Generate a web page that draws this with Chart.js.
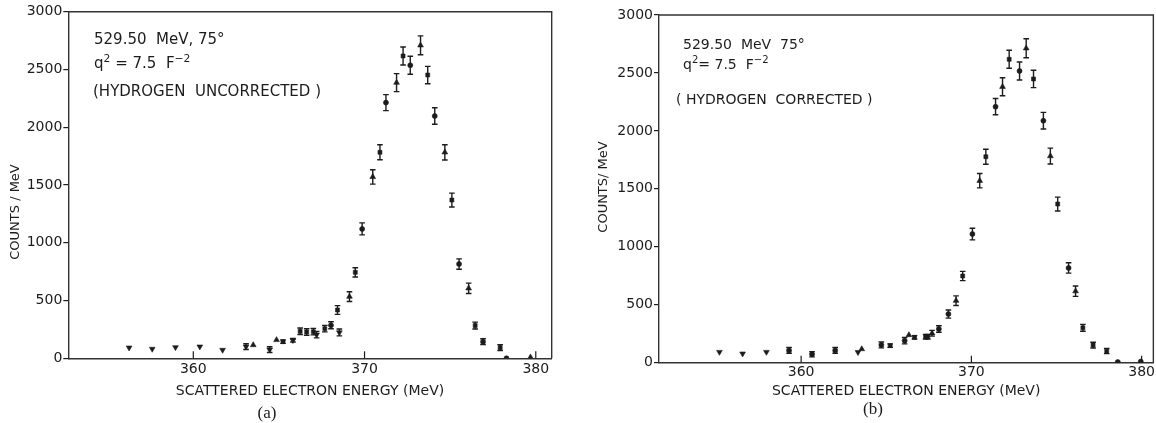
<!DOCTYPE html>
<html><head><meta charset="utf-8">
<script src="https://cdn.jsdelivr.net/npm/chart.js@4.4.1/dist/chart.umd.min.js"></script>
<style>
html,body{margin:0;padding:0;background:#fff;width:1156px;height:423px;overflow:hidden;position:relative;}
canvas{position:absolute;top:0;}
#cA{left:0;} #cB{left:580px;}
.cap{position:absolute;font-family:"Liberation Serif","DejaVu Serif",serif;font-size:17px;color:#1c1c1c;transform:translate(-50%,-50%);white-space:nowrap;}
</style></head><body>
<canvas id="cA" width="575" height="423"></canvas>
<canvas id="cB" width="576" height="423"></canvas>
<div class="cap" style="left:267px;top:413px">(a)</div>
<div class="cap" style="left:873px;top:409px">(b)</div>
<script>
// ---------- data ----------
const xTickValues = [360, 370, 380];
const yTickValues = [0, 500, 1000, 1500, 2000, 2500, 3000];

// (a) hydrogen uncorrected
const energyA = [356.25,357.6,358.96,360.38,361.71,363.08,363.5,364.46,364.86,365.24,365.82,366.24,366.62,367.01,367.2,367.68,368.04,368.53,368.42,369.12,369.46,369.86,370.48,370.9,371.25,371.87,372.25,372.67,373.27,373.69,374.1,374.69,375.1,375.52,376.08,376.46,376.92,377.92,378.29,379.69];
const countsA = [92,81,95,101,72,101,115,75,159,144,156,234,228,231,205,257,286,224,418,534,744,1120,1570,1783,2213,2386,2617,2536,2709,2452,2097,1783,1370,816,606,283,144,92,0,9];
const errorA  = [0,0,0,0,0,25,0,25,0,15,15,28,28,28,28,28,30,30,38,42,40,52,62,65,69,78,78,78,82,75,71,66,60,45,45,30,25,25,0,0];
const markerA = ['v','v','v','v','v','v','^','v','^','s','v','s','s','s','v','s','o','v','s','^','s','o','^','s','o','^','s','o','^','s','o','^','s','o','^','s','o','s','o','^'];

// (b) hydrogen corrected
const energyB = [355.2,356.56,357.96,359.29,360.64,362.0,363.34,363.56,364.71,365.23,366.08,366.33,366.66,367.31,367.44,367.69,368.09,368.65,369.1,369.49,370.06,370.49,370.85,371.42,371.83,372.22,372.83,373.22,373.65,374.23,374.64,375.07,375.71,376.12,376.55,377.15,377.95,378.6,379.95];
const countsB = [92,78,92,106,72,106,90,118,153,147,190,239,219,224,224,254,291,420,535,748,1110,1570,1777,2209,2381,2618,2517,2713,2448,2088,1783,1369,818,617,301,152,100,6,10];
const errorB  = [0,0,0,25,22,25,0,0,25,15,28,0,15,20,20,25,28,35,42,40,50,62,65,70,78,78,78,82,75,72,68,60,45,45,30,25,22,0,0];
const markerB = ['v','v','v','o','o','o','v','^','o','s','o','^','s','s','s','^','o','o','^','s','o','^','s','o','^','s','o','^','s','o','^','s','o','^','s','s','s','o','o'];

// ---------- rendering ----------
const ink = '#1c1c1c';
const FONT = '"DejaVu Sans", "Liberation Sans", sans-serif';

function markerStyle(m) {
  if (m === 'v') return {style: 'triangle', rot: 180, r: 3.3};
  if (m === '^') return {style: 'triangle', rot: 0, r: 3.3};
  if (m === 's') return {style: 'rect', rot: 0, r: 2.8};
  return {style: 'circle', rot: 0, r: 2.5};
}

const errorBarPlugin = {
  id: 'errorBars',
  afterDatasetsDraw(chart) {
    const {ctx, scales: {x, y}} = chart;
    const ds = chart.data.datasets[0];
    ctx.save();
    ctx.strokeStyle = ink; ctx.lineWidth = 1.4;
    ds.data.forEach(p => {
      if (!p.err) return;
      const px = x.getPixelForValue(p.x);
      const yt = y.getPixelForValue(p.y + p.err);
      const yb = y.getPixelForValue(Math.max(0, p.y - p.err));
      ctx.beginPath();
      ctx.moveTo(px, yt); ctx.lineTo(px, yb);
      ctx.moveTo(px - 2.8, yt); ctx.lineTo(px + 2.8, yt);
      ctx.moveTo(px - 2.8, yb); ctx.lineTo(px + 2.8, yb);
      ctx.stroke();
    });
    ctx.restore();
  }
};

const framePlugin = {
  id: 'frame',
  afterDraw(chart) {
    const {ctx, chartArea: a, scales: {x}} = chart;
    ctx.save();
    ctx.strokeStyle = '#333'; ctx.lineWidth = 1.4;
    ctx.beginPath();
    ctx.moveTo(a.left, a.top); ctx.lineTo(a.right, a.top); ctx.lineTo(a.right, a.bottom);
    ctx.stroke();
    ctx.lineWidth = 1.2; ctx.strokeStyle = ink;
    xTickValues.forEach(v => {
      const px = x.getPixelForValue(v);
      ctx.beginPath(); ctx.moveTo(px, a.bottom); ctx.lineTo(px, a.bottom - 7); ctx.stroke();
    });
    ctx.restore();
  }
};

// each line is a list of runs; a run with sup:true is drawn smaller and raised
const textPlugin = {
  id: 'panelText',
  afterDraw(chart, args, opts) {
    const ctx = chart.ctx;
    ctx.save();
    ctx.fillStyle = ink;
    ctx.textBaseline = 'alphabetic';
    ctx.textAlign = 'left';
    (opts.lines || []).forEach(l => {
      let cx = l.x;
      l.runs.forEach(r => {
        const sz = r.sup ? l.size * 0.72 : l.size;
        ctx.font = sz + 'px ' + FONT;
        const dy = r.sup ? -l.size * 0.45 : 0;
        ctx.fillText(r.t, cx, l.y + l.size * 0.36 + dy);
        cx += ctx.measureText(r.t).width;
      });
    });
    if (opts.yTitle) {
      const t = opts.yTitle;
      ctx.translate(t.x, t.y);
      ctx.rotate(-Math.PI / 2);
      ctx.font = t.size + 'px ' + FONT;
      ctx.textAlign = 'center';
      ctx.textBaseline = 'middle';
      ctx.fillText(t.text, 0, 0);
    }
    ctx.restore();
  }
};

function makeChart(id, energy, counts, errs, markers, cfg) {
  const pts = energy.map((e, i) => ({x: e, y: counts[i], err: errs[i]}));
  const ms = markers.map(markerStyle);
  return new Chart(document.getElementById(id), {
    type: 'scatter',
    data: {datasets: [{
      data: pts,
      pointStyle: ms.map(m => m.style),
      rotation: ms.map(m => m.rot),
      pointRadius: ms.map(m => m.r),
      backgroundColor: ink,
      borderColor: ink,
      borderWidth: 0.6,
      showLine: false
    }]},
    options: {
      responsive: false,
      animation: false,
      devicePixelRatio: 1,
      layout: {autoPadding: false, padding: {top: cfg.top, right: cfg.right, left: 0, bottom: 0}},
      plugins: {
        legend: {display: false},
        tooltip: {enabled: false},
        panelText: {lines: cfg.lines, yTitle: cfg.yTitle}
      },
      scales: {
        x: {
          type: 'linear',
          min: cfg.xmin, max: cfg.xmax,
          afterBuildTicks: s => { s.ticks = xTickValues.map(v => ({value: v})); },
          afterFit: s => { s.height = cfg.xHeight; },
          grid: {display: true, drawOnChartArea: false, drawTicks: false},
          border: {display: true, color: '#333', width: 1.4},
          ticks: {color: ink, font: {family: FONT, size: 14}, padding: cfg.xPad, maxRotation: 0, callback: v => String(v)},
          title: {display: true, text: 'SCATTERED ELECTRON ENERGY (MeV)', color: ink,
                  font: {family: FONT, size: 14}, padding: {top: 0, bottom: cfg.titlePad}}
        },
        y: {
          type: 'linear',
          min: 0, max: 3000,
          afterBuildTicks: s => { s.ticks = yTickValues.map(v => ({value: v})); },
          afterFit: s => { s.width = cfg.yWidth; },
          grid: {display: true, drawOnChartArea: false, drawTicks: true, tickLength: 5, color: ink, lineWidth: 1.2},
          border: {display: true, color: '#333', width: 1.4},
          ticks: {color: ink, font: {family: FONT, size: 14}, padding: 1, callback: v => String(v)}
        }
      }
    },
    plugins: [errorBarPlugin, framePlugin, textPlugin]
  });
}

makeChart('cA', energyA, countsA, errorA, markerA, {
  top: 11.7, right: 23.3, xHeight: 64.7, yWidth: 68.3,
  xmin: 352.70, xmax: 380.93, xPad: 3, titlePad: 23,
  yTitle: {text: 'COUNTS / MeV', x: 16, y: 212, size: 13},
  lines: [
    {x: 94, y: 39, size: 15, runs: [{t: '529.50  MeV, 75°'}]},
    {x: 94, y: 63, size: 15, runs: [{t: 'q'}, {t: '2', sup: true}, {t: ' = 7.5  F'}, {t: '−2', sup: true}]},
    {x: 93, y: 91, size: 15, runs: [{t: '(HYDROGEN  UNCORRECTED )'}]}
  ]
});

makeChart('cB', energyB, countsB, errorB, markerB, {
  top: 15, right: 1, xHeight: 60.3, yWidth: 79,
  xmin: 351.65, xmax: 380.69, xPad: 1, titlePad: 23,
  yTitle: {text: 'COUNTS/ MeV', x: 24, y: 187, size: 13},
  lines: [
    {x: 103, y: 44, size: 14, runs: [{t: '529.50  MeV  75°'}]},
    {x: 103, y: 64, size: 14, runs: [{t: 'q'}, {t: '2', sup: true}, {t: '= 7.5  F'}, {t: '−2', sup: true}]},
    {x: 96, y: 99, size: 14, runs: [{t: '( HYDROGEN  CORRECTED )'}]}
  ]
});
</script>
</body></html>
